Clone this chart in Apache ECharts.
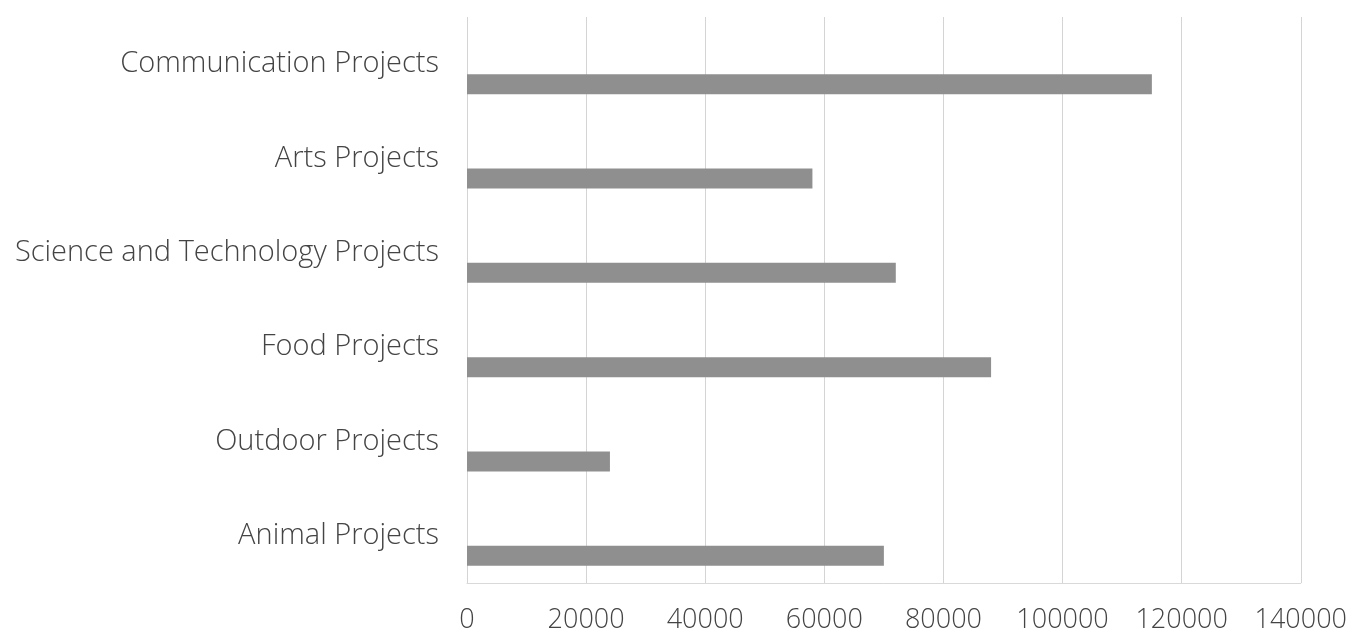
<!DOCTYPE html>
<html>
<head>
<meta charset="utf-8">
<script src="https://cdn.jsdelivr.net/npm/echarts@6/dist/echarts.min.js"></script>
<style>
html,body{margin:0;padding:0;background:#fff;}
#chart{width:1350px;height:637px;}
</style>
</head>
<body>
<div id="chart"></div>
<script>
// Data (ECharts draws category 0 at the bottom)
const categories = ['Animal Projects', 'Outdoor Projects', 'Food Projects', 'Science and Technology Projects', 'Arts Projects', 'Communication Projects'];
const values = [70000, 24000, 88000, 72000, 58000, 115000];
const xTicks = [0, 20000, 40000, 60000, 80000, 100000, 120000, 140000];

const chart = echarts.init(document.getElementById('chart'), null, {renderer: 'canvas'});
chart.setOption({
  animation: false,
  backgroundColor: '#ffffff',
  grid: {left: 467, right: 48, top: 17, bottom: 54, containLabel: false},
  xAxis: {
    type: 'value',
    min: xTicks[0],
    max: xTicks[xTicks.length - 1],
    interval: 20000,
    axisLine: {show: true, lineStyle: {color: '#d9d9d9', width: 1}},
    axisTick: {show: false},
    splitLine: {show: true, lineStyle: {color: '#d4d4d4', width: 1}},
    axisLabel: {
      color: '#444444',
      fontFamily: 'Open Sans',
      fontWeight: 300,
      fontSize: 27,
      margin: 24,
      formatter: function (v) { return String(v); }
    }
  },
  yAxis: {
    type: 'category',
    data: categories,
    axisLine: {show: false},
    axisTick: {show: false},
    splitLine: {show: false},
    axisLabel: {
      color: '#444444',
      fontFamily: 'Open Sans',
      fontWeight: 300,
      fontSize: 29,
      margin: 28,
      padding: [0, 0, 10, 0]
    }
  },
  series: [
    {
      name: 'spacer',
      type: 'bar',
      data: [],
      barWidth: 20,
      barGap: '100%'
    },
    {
      name: 'Value',
      type: 'bar',
      data: values,
      barWidth: 20,
      barGap: '100%',
      itemStyle: {color: '#8f8f8f'}
    }
  ]
});
</script>
</body>
</html>
